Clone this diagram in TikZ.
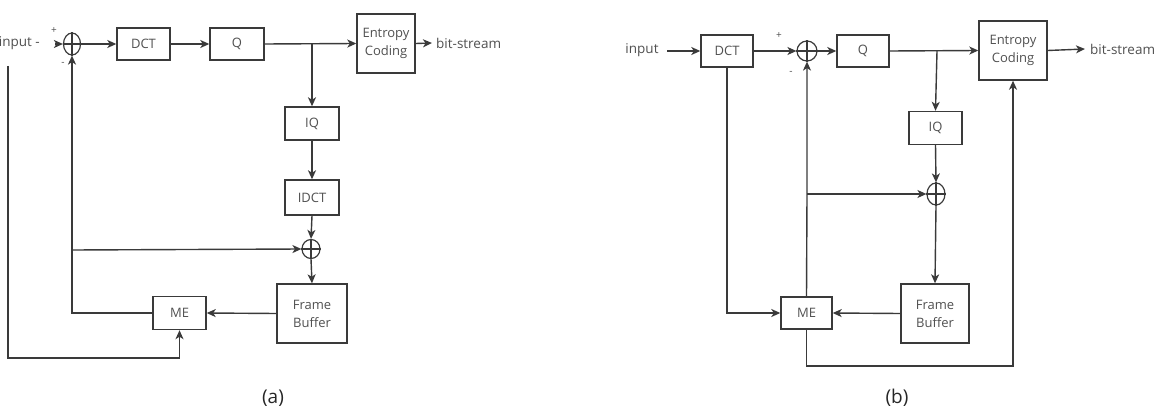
\documentclass[tikz,border=0pt]{standalone}
\usepackage{fontspec}
\setmainfont{Open Sans}
\usetikzlibrary{arrows.meta,shapes.geometric}
\definecolor{ln}{HTML}{3A3A3A}
\definecolor{tx}{HTML}{505050}
\tikzset{
  blk/.style={draw=ln,line width=1.4pt,rectangle,inner sep=0pt,align=center,text=tx,font=\fontsize{13}{18}\selectfont},
  sumn/.style={draw=ln,line width=1.2pt,ellipse,inner sep=0pt},
  lbl/.style={text=tx,font=\fontsize{13.5}{15}\selectfont,inner sep=0pt},
  sgn/.style={text=tx,font=\fontsize{10}{11}\selectfont,inner sep=0pt},
  captxt/.style={text=black!85,font=\fontsize{19}{21}\selectfont,inner sep=0pt,anchor=center},
  wire/.style={draw=ln,line width=1.4pt},
  arr/.style={wire,-{Stealth[length=9pt,width=8pt,inset=2.5pt]}},
}
\newcommand{\crossit}[1]{\draw[ln,line width=1.2pt] (#1.north) -- (#1.south) (#1.west) -- (#1.east);}
\begin{document}
\begin{tikzpicture}[x=1pt,y=-1pt]
\useasboundingbox (0,0) rectangle (1164,409);
% ---------------- (a) ----------------
\node[lbl,anchor=east] (inA) at (40,43) {input -};
\node[sumn,minimum width=17pt,minimum height=22pt] (sA1) at (72,44) {};
\crossit{sA1}
\node[sgn] (pA) at (54,31) {+};
\node[sgn] (mA) at (63,64) {-};
\coordinate (tA) at (55,44);
\draw[arr] (tA) -- (sA1.west);
\node[blk,minimum width=53pt,minimum height=32pt] (dctA) at (143.5,44) {DCT};
\node[blk,minimum width=54pt,minimum height=32pt] (qA) at (237,44) {Q};
\node[blk,minimum width=58pt,minimum height=59pt] (ecA) at (386,43.5) {Entropy\\Coding};
\node[lbl,anchor=west,inner xsep=4pt] (bsA) at (432,43) {bit-stream};
\node[blk,minimum width=54pt,minimum height=33pt] (iqA) at (312,123.5) {IQ};
\node[blk,minimum width=54pt,minimum height=35pt] (idctA) at (312,197.5) {IDCT};
\node[sumn,minimum width=18pt,minimum height=19pt] (sA2) at (311,249) {};
\crossit{sA2}
\node[blk,minimum width=70pt,minimum height=59pt] (fbA) at (312,313.5) {Frame\\Buffer};
\node[blk,minimum width=53pt,minimum height=33pt] (meA) at (179.5,313) {ME};
\coordinate (bA) at (312,44);
\coordinate (jA) at (72,250);
\coordinate (iA) at (8,66);
\draw[arr] (sA1.east) -- (dctA.west);
\draw[arr] (dctA.east) -- (qA.west);
\draw[arr] (qA.east) -- (ecA.west);
\draw[arr] (ecA.east) -- (bsA.west);
\draw[arr] (bA) -- (iqA.north);
\draw[arr] (iqA.south) -- (idctA.north);
\draw[arr] (idctA.south) -- (sA2.north);
\draw[arr] (sA2.south) -- (fbA.north);
\draw[arr] (fbA.west) -- (meA.east);
\draw[arr] (meA.west) -- (72,313) -- (sA1.south);
\draw[arr] (jA) -- (sA2.west);
\draw[arr] (iA) -- (8,358) -| (meA.south);
\node[captxt] (capA) at (273,398) {(a)};
% ---------------- (b) ----------------
\node[lbl] (inB) at (642,50) {input};
\coordinate (tB) at (667,51);
\node[blk,minimum width=52pt,minimum height=32pt] (dctB) at (727,51) {DCT};
\node[sumn,minimum width=20pt,minimum height=20pt] (sB1) at (807,51) {};
\crossit{sB1}
\node[sgn] (pB) at (779,36) {+};
\node[sgn] (mB) at (791,73) {-};
\node[blk,minimum width=52pt,minimum height=32pt] (qB) at (863,51) {Q};
\node[blk,minimum width=68pt,minimum height=59pt] (ecB) at (1013,50.5) {Entropy\\Coding};
\node[lbl,anchor=west,inner xsep=5pt] (bsB) at (1085,49) {bit-stream};
\node[blk,minimum width=53pt,minimum height=33pt] (iqB) at (935.5,128) {IQ};
\node[sumn,minimum width=18pt,minimum height=22pt] (sB2) at (936,194) {};
\crossit{sB2}
\node[blk,minimum width=68pt,minimum height=59pt] (fbB) at (935,313.5) {Frame\\Buffer};
\node[blk,minimum width=51pt,minimum height=32pt] (meB) at (806.5,313) {ME};
\coordinate (bB) at (937,51);
\coordinate (jB) at (807,194);
\draw[arr] (tB) -- (dctB.west);
\draw[arr] (dctB.east) -- (sB1.west);
\draw[arr] (sB1.east) -- (qB.west);
\draw[arr] (qB.east) -- (ecB.west);
\draw[arr] (ecB.east) -- (bsB.west);
\draw[arr] (bB) -- (iqB.north);
\draw[arr] (iqB.south) -- (sB2.north);
\draw[arr] (sB2.south) -- (fbB.north);
\draw[arr] (fbB.west) -- (meB.east);
\draw[arr] (meB.north) -- (jB) -- (sB1.south);
\draw[arr] (jB) -- (sB2.west);
\draw[arr] (dctB.south) |- (meB.west);
\draw[arr] (meB.south) -- (806.5,366) -| (ecB.south);
\node[captxt] (capB) at (897,398) {(b)};
\end{tikzpicture}
\end{document}
